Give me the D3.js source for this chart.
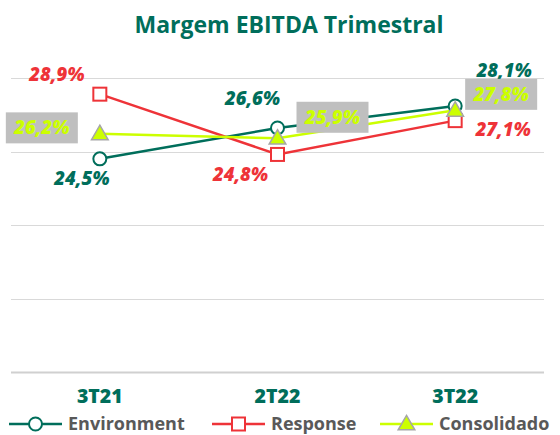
<!DOCTYPE html>
<html>
<head>
<meta charset="utf-8">
<script src="https://cdn.jsdelivr.net/npm/d3@7"></script>
<style>
  body { margin: 0; background: #ffffff; }
  svg { display: block; font-family: 'Open Sans', sans-serif; }
</style>
</head>
<body>
<div class="d3-content"></div>
<script>
// data
const quarters = ['3T21', '2T22', '3T22'];
const environment = [24.5, 26.6, 28.1];
const response = [28.9, 24.8, 27.1];
const consolidado = [26.2, 25.9, 27.8];
const yTicks = [10, 15, 20, 25, 30];

/************************/
/*      Dimensions      */
/************************/
const width = 560;
const height = 435;
const plot = { left: 11, right: 544, top: 78, bottom: 372 };

/**********************/
/*       Colors       */
/**********************/
const teal = '#006e5b';
const red = '#ee3338';
const lime = '#ccff00';
const boxGray = '#bfbfbf';
const gridGray = '#d9d9d9';
const textGray = '#595959';

const series = [
  { name: 'Environment', values: environment, color: teal, marker: 'circle',
    labelColor: teal, box: false,
    offsets: [[-18, 26], [-25, -23], [49, -29]] },
  { name: 'Response', values: response, color: red, marker: 'square',
    labelColor: red, box: false,
    offsets: [[-43, -13], [-37, 27], [48, 15]] },
  { name: 'Consolidado', values: consolidado, color: lime, marker: 'triangle',
    labelColor: lime, box: true,
    offsets: [[-58, -6], [55, -21], [46, -16]] }
];

const fmt = v => v.toFixed(1).replace('.', ',') + '%';

/****************************/
/*    Declare the scales    */
/****************************/
const xScale = d3.scaleBand()
  .domain(quarters)
  .range([plot.left, plot.right]);
const yScale = d3.scaleLinear()
  .domain([10, 30])
  .range([plot.bottom, plot.top]);
const cx = q => xScale(q) + xScale.bandwidth() / 2;

const svg = d3.select('.d3-content')
  .append('svg')
    .attr('width', width)
    .attr('height', height);

// title
svg.append('text')
  .text('Margem EBITDA Trimestral')
  .attr('x', 289)
  .attr('y', 33)
  .attr('text-anchor', 'middle')
  .attr('font-size', 23)
  .attr('font-weight', 700)
  .attr('fill', teal);

// gridlines
svg.append('g')
  .selectAll('line')
  .data(yTicks)
  .join('line')
    .attr('x1', plot.left)
    .attr('x2', plot.right)
    .attr('y1', d => Math.round(yScale(d)) + 0.5)
    .attr('y2', d => Math.round(yScale(d)) + 0.5)
    .attr('stroke', d => d === 10 ? '#d0d0d0' : gridGray)
    .attr('stroke-width', d => d === 10 ? 2 : 1);

// category axis
const bottomAxis = d3.axisBottom(xScale).tickSize(0).tickPadding(0);
const axisG = svg.append('g')
  .attr('transform', `translate(0, ${plot.bottom})`)
  .call(bottomAxis);
axisG.select('.domain').remove();
axisG.selectAll('text')
  .attr('dy', null)
  .attr('y', 31)
  .attr('font-family', 'Open Sans')
  .attr('font-size', 19.5)
  .attr('font-weight', 800)
  .attr('fill', teal);

/*******************************/
/*     Lines and markers       */
/*******************************/
const line = d3.line()
  .x((d, i) => cx(quarters[i]))
  .y(d => yScale(d));

const drawMarker = (g, type, x, y, color) => {
  if (type === 'circle') {
    g.append('circle')
      .attr('cx', x).attr('cy', y).attr('r', 6.5)
      .attr('fill', '#fff').attr('stroke', color).attr('stroke-width', 2);
  } else if (type === 'square') {
    g.append('rect')
      .attr('x', x - 6.5).attr('y', y - 6.5)
      .attr('width', 13).attr('height', 13)
      .attr('fill', '#fff').attr('stroke', color).attr('stroke-width', 2);
  } else {
    g.append('path')
      .attr('d', d3.symbol(d3.symbolTriangle, 120)())
      .attr('transform', `translate(${x}, ${y + 1})`)
      .attr('fill', lime).attr('stroke', '#a6a6a6').attr('stroke-width', 1.5);
  }
};

series.forEach(s => {
  svg.append('path')
    .datum(s.values)
    .attr('d', line)
    .attr('fill', 'none')
    .attr('stroke', s.color)
    .attr('stroke-width', 2.5);
});

series.forEach(s => {
  const g = svg.append('g');
  s.values.forEach((v, i) => drawMarker(g, s.marker, cx(quarters[i]), yScale(v), s.color));
});

// data labels
series.forEach(s => {
  s.values.forEach((v, i) => {
    const x = cx(quarters[i]) + s.offsets[i][0];
    const y = yScale(v) + s.offsets[i][1];
    if (s.box) {
      svg.append('rect')
        .attr('x', x - 36).attr('y', y - 15.5)
        .attr('width', 72).attr('height', 31)
        .attr('fill', boxGray);
    }
    svg.append('text')
      .text(fmt(v))
      .attr('x', x).attr('y', s.box ? y + 6.5 : y)
      .attr('text-anchor', 'middle')
      .attr('font-size', 18.5).attr('font-weight', 800).attr('font-style', 'italic')
      .attr('fill', s.labelColor);
  });
});

/*******************************/
/*           Legend            */
/*******************************/
const legendX = [9, 212, 380];
const legendY = 424;
series.forEach((s, i) => {
  const g = svg.append('g').attr('transform', `translate(${legendX[i]}, ${legendY})`);
  g.append('line')
    .attr('x1', 0).attr('x2', 53)
    .attr('stroke', s.color).attr('stroke-width', 2.5);
  drawMarker(g, s.marker, 26.5, 0, s.color);
  g.append('text')
    .text(s.name)
    .attr('x', 59)
    .attr('y', 5.5)
    .attr('font-size', 18)
    .attr('font-weight', 700)
    .attr('fill', textGray);
});
</script>
</body>
</html>
